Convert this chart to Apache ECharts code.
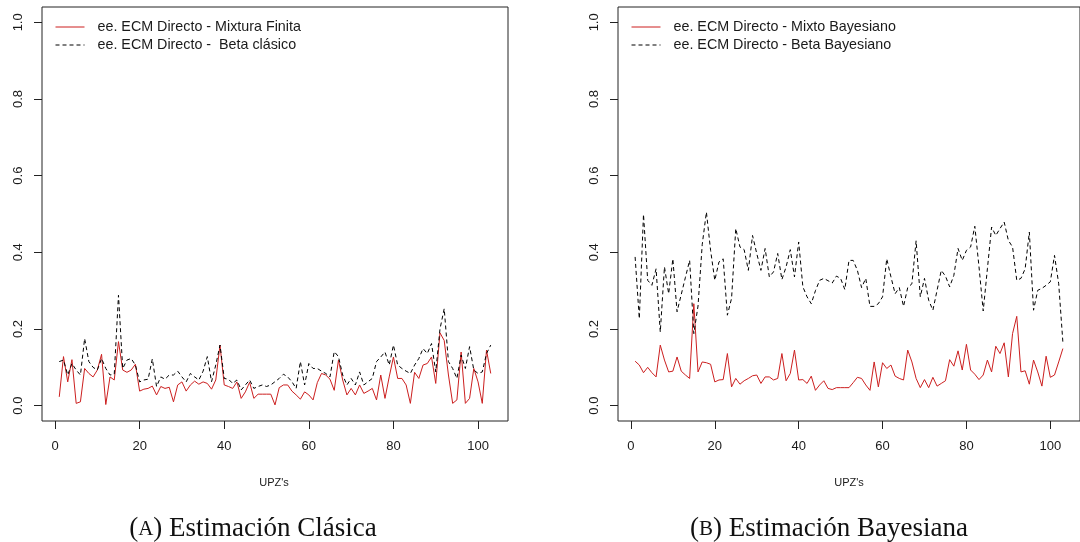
<!DOCTYPE html>
<html><head><meta charset="utf-8">
<script src="https://cdn.jsdelivr.net/npm/echarts@6/dist/echarts.min.js"></script>
<style>html,body{margin:0;padding:0;background:#fff}#c{width:1080px;height:542px}</style>
</head><body><div id="c"></div>
<script>
// UPZ index (1..103)
const upz = Array.from({length:103},(_,k)=>k+1);
const xTicks = [0,20,40,60,80,100];
const yTicks = [0,0.2,0.4,0.6,0.8,1.0];

const namesA = ['ee. ECM Directo - Mixtura Finita','ee. ECM Directo -  Beta clásico'];
const namesB = ['ee. ECM Directo - Mixto Bayesiano','ee. ECM Directo - Beta Bayesiano'];
const captionA = 'Estimación Clásica';
const captionB = 'Estimación Bayesiana';
const xTitle = "UPZ's";

// (A) Estimación Clásica
const leftRed = [0.023,0.128,0.062,0.12,0.006,0.01,0.097,0.084,0.075,0.093,
 0.134,0.003,0.075,0.067,0.167,0.093,0.087,0.093,0.108,0.038,
 0.043,0.045,0.051,0.028,0.05,0.045,0.048,0.01,0.054,0.062,
 0.038,0.054,0.064,0.056,0.062,0.058,0.043,0.067,0.158,0.054,
 0.05,0.045,0.062,0.019,0.036,0.061,0.019,0.03,0.03,0.03,
 0.03,0.002,0.047,0.054,0.054,0.038,0.028,0.017,0.036,0.028,
 0.015,0.06,0.084,0.08,0.069,0.04,0.119,0.067,0.028,0.045,
 0.028,0.054,0.032,0.038,0.045,0.015,0.08,0.019,0.075,0.127,
 0.071,0.071,0.054,0.006,0.087,0.071,0.106,0.11,0.127,0.058,
 0.19,0.17,0.08,0.006,0.015,0.14,0.006,0.019,0.097,0.062,
 0.006,0.145,0.084];
const leftBlack = [0.115,0.119,0.08,0.11,0.093,0.08,0.175,0.115,0.1,0.093,
 0.123,0.097,0.08,0.082,0.288,0.097,0.119,0.123,0.106,0.062,
 0.067,0.069,0.122,0.05,0.075,0.069,0.08,0.08,0.09,0.075,
 0.062,0.084,0.075,0.067,0.09,0.128,0.0625,0.106,0.158,0.071,
 0.069,0.058,0.067,0.041,0.054,0.067,0.045,0.05,0.054,0.05,
 0.054,0.0625,0.071,0.082,0.075,0.0625,0.045,0.115,0.054,0.11,
 0.097,0.097,0.09,0.084,0.075,0.141,0.128,0.08,0.054,0.071,
 0.054,0.088,0.054,0.0625,0.071,0.115,0.127,0.14,0.106,0.158,
 0.106,0.097,0.09,0.084,0.106,0.123,0.149,0.136,0.162,0.088,
 0.2,0.253,0.115,0.097,0.071,0.132,0.097,0.154,0.093,0.084,
 0.088,0.136,0.158];

// (B) Estimación Bayesiana
const rightRed = [0.116,0.106,0.086,0.1,0.086,0.075,0.158,0.119,0.088,0.09,
 0.127,0.09,0.08,0.071,0.266,0.088,0.114,0.112,0.108,0.062,
 0.067,0.068,0.136,0.049,0.071,0.056,0.065,0.071,0.078,0.08,
 0.058,0.075,0.075,0.067,0.071,0.136,0.065,0.084,0.145,0.067,
 0.068,0.058,0.077,0.04,0.054,0.065,0.045,0.042,0.047,0.047,
 0.047,0.047,0.06,0.074,0.071,0.054,0.04,0.114,0.049,0.112,
 0.097,0.106,0.077,0.071,0.067,0.145,0.114,0.071,0.047,0.068,
 0.047,0.074,0.051,0.058,0.065,0.12,0.103,0.143,0.093,0.16,
 0.093,0.082,0.068,0.08,0.119,0.088,0.155,0.136,0.164,0.075,
 0.188,0.233,0.088,0.091,0.056,0.119,0.088,0.051,0.129,0.074,
 0.08,0.114,0.149];
const rightBlack = [0.388,0.227,0.499,0.327,0.314,0.357,0.192,0.362,0.292,0.383,
 0.245,0.29,0.335,0.379,0.188,0.26,0.42,0.505,0.405,0.327,
 0.375,0.383,0.236,0.28,0.462,0.414,0.407,0.353,0.444,0.397,
 0.353,0.41,0.336,0.349,0.397,0.329,0.362,0.407,0.336,0.427,
 0.31,0.284,0.266,0.3,0.327,0.332,0.326,0.32,0.338,0.332,
 0.303,0.379,0.379,0.353,0.308,0.332,0.259,0.259,0.266,0.284,
 0.383,0.336,0.292,0.308,0.259,0.308,0.318,0.43,0.284,0.332,
 0.275,0.249,0.301,0.353,0.338,0.31,0.34,0.41,0.379,0.405,
 0.414,0.468,0.362,0.247,0.357,0.466,0.444,0.462,0.479,0.431,
 0.414,0.327,0.332,0.357,0.453,0.249,0.301,0.306,0.314,0.323,
 0.392,0.318,0.165];

const RED = '#cc1f1f';
const INK = '#1a1a1a';
const SANS = '"Liberation Sans", Arial, sans-serif';
const SERIF = '"Liberation Serif", "Times New Roman", serif';
const pairs = (ys) => upz.map((x,k)=>[x, ys[k]]);

function xAx(g){return {type:'value', gridIndex:g, min:-3.08, max:107.08,
  axisLine:{show:false,onZero:false}, splitLine:{show:false},
  axisTick:{show:true, customValues:xTicks, length:8, lineStyle:{color:'#222',width:1}},
  axisLabel:{customValues:xTicks, margin:19, fontSize:13, color:INK, fontFamily:SANS}};}
function yAx(g){return {type:'value', gridIndex:g, min:-0.04, max:1.04,
  axisLine:{show:false,onZero:false}, splitLine:{show:false},
  axisTick:{show:true, customValues:yTicks, length:8, lineStyle:{color:'#222',width:1}},
  axisLabel:{customValues:yTicks, rotate:90, margin:17, fontSize:13, color:INK, fontFamily:SANS,
    formatter:(v)=>v.toFixed(1)}};}
function ser(name, ys, g, dashed){return {type:'line', name, xAxisIndex:g, yAxisIndex:g,
  data:pairs(ys), showSymbol:false, symbol:'none', silent:true,
  lineStyle: dashed ? {color:'#000', width:1, type:[4,3]} : {color:RED, width:1},
  itemStyle:{color: dashed ? '#000' : RED}};}
function leg(left, names){return {left:left, top:19, orient:'vertical', itemWidth:29, itemHeight:16, itemGap:2,
  data:names, selectedMode:false, padding:0, itemStyle:{opacity:0}, lineStyle:{width:1},
  textStyle:{fontSize:14.3, lineHeight:16, color:INK, fontFamily:SANS, padding:[0,0,0,8]}};}
function cap(x, letter, txt){return {type:'text', x:x, y:529, silent:true,
  style:{text:'({sc|'+letter+'}) '+txt, fill:'#111', font:'27px '+SERIF,
    textAlign:'center', textVerticalAlign:'middle',
    rich:{sc:{fontSize:21, fontFamily:SERIF, fill:'#111'}}}};}
function xt(x){return {type:'text', x:x, y:483, silent:true,
  style:{text:xTitle, fill:INK, font:'11px '+SANS, textAlign:'center', textVerticalAlign:'middle'}};}

const chart = echarts.init(document.getElementById('c'), null, {renderer:'canvas'});
chart.setOption({
  animation:false,
  backgroundColor:'#fff',
  grid:[
    {left:42, top:7, width:466, height:414, show:true, borderColor:'#222', borderWidth:1, containLabel:false},
    {left:618, top:7, width:466, height:414, show:true, borderColor:'#222', borderWidth:1, containLabel:false}
  ],
  xAxis:[xAx(0), xAx(1)],
  yAxis:[yAx(0), yAx(1)],
  legend:[leg(55, namesA), leg(631, namesB)],
  series:[
    ser(namesA[0], leftRed, 0, false),
    ser(namesA[1], leftBlack, 0, true),
    ser(namesB[0], rightRed, 1, false),
    ser(namesB[1], rightBlack, 1, true)
  ],
  graphic:[xt(274), xt(849), cap(253,'A',captionA), cap(829,'B',captionB)]
});
</script></body></html>
